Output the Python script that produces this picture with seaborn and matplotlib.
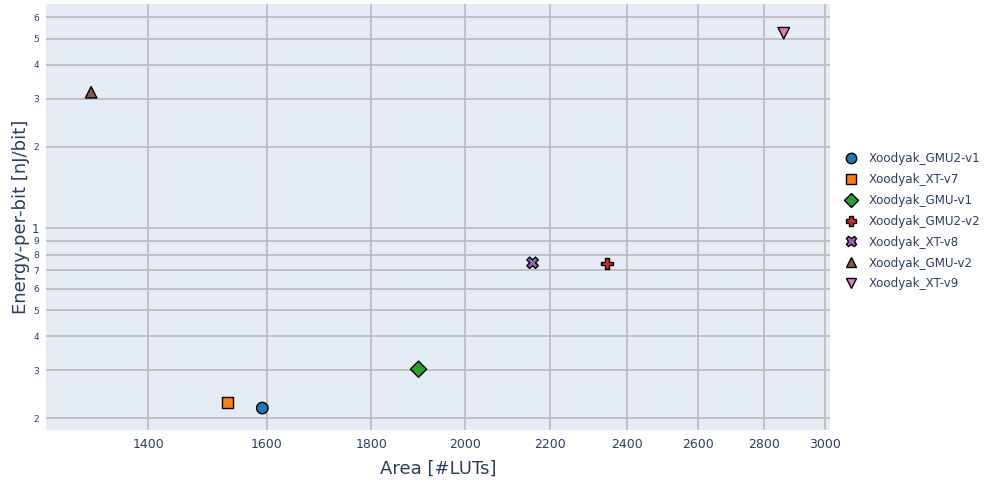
import matplotlib
matplotlib.use("Agg")
import matplotlib.pyplot as plt
import matplotlib.ticker as mticker
import seaborn as sns
import pandas as pd

names = ["Xoodyak_GMU2-v1", "Xoodyak_XT-v7", "Xoodyak_GMU-v1", "Xoodyak_GMU2-v2",
         "Xoodyak_XT-v8", "Xoodyak_GMU-v2", "Xoodyak_XT-v9"]
area = [1592, 1531, 1898, 2347, 2158, 1313, 2863]
energy = [0.218, 0.228, 0.303, 0.742, 0.747, 3.17, 5.23]
colors = ["#1f77b4", "#ff7f0e", "#2ca02c", "#d62728", "#9467bd", "#8c564b", "#e377c2"]
markers = ["o", "s", "D", "P", "X", "^", "v"]

x_ticks = [1400, 1600, 1800, 2000, 2200, 2400, 2600, 2800, 3000]
y_ticks = [0.2, 0.3, 0.4, 0.5, 0.6, 0.7, 0.8, 0.9, 1, 2, 3, 4, 5, 6]
y_labels = ["2", "3", "4", "5", "6", "7", "8", "9", "1", "2", "3", "4", "5", "6"]

df = pd.DataFrame({"name": names, "area": area, "energy": energy})

sns.set_style("white")
plt.rcParams["font.family"] = ["DejaVu Sans"]
txt = "#2a3f5f"

fig = plt.figure(figsize=(9.96, 4.84), dpi=100)
ax = fig.add_axes([46/996, 1-430/484, (830-46)/996, (430-4)/484])
ax.set_facecolor("#e5ecf6")

sns.scatterplot(data=df, x="area", y="energy", hue="name", style="name",
                hue_order=names, style_order=names,
                palette=colors, markers=markers, s=68,
                edgecolor="black", linewidth=1.0, ax=ax, zorder=3)

ax.set_xscale("log")
ax.set_yscale("log")
ax.set_xlim(1248, 3016)
ax.set_ylim(0.181, 6.7)

ax.xaxis.set_major_locator(mticker.FixedLocator(x_ticks))
ax.xaxis.set_major_formatter(mticker.FixedFormatter([str(t) for t in x_ticks]))
ax.xaxis.set_minor_locator(mticker.NullLocator())
ax.yaxis.set_major_locator(mticker.FixedLocator(y_ticks))
ax.yaxis.set_major_formatter(mticker.FixedFormatter(y_labels))
ax.yaxis.set_minor_locator(mticker.NullLocator())

ax.grid(True, which="major", color="#bebebe", linewidth=1.3, zorder=0)
ax.set_axisbelow(True)
for s in ax.spines.values():
    s.set_visible(False)

ax.tick_params(axis="x", length=0, pad=6, labelsize=9, labelcolor=txt)
ax.tick_params(axis="y", length=3, width=1, color="#bebebe", pad=2, labelsize=6.5, labelcolor=txt)
for lbl in ax.get_yticklabels():
    if lbl.get_text() == "1":
        lbl.set_fontsize(8.5)

ax.set_xlabel("Area [#LUTs]", fontsize=13, color=txt, labelpad=6)
ax.set_ylabel("Energy-per-bit [nJ/bit]", fontsize=13, color=txt, labelpad=1)

handles, labels = ax.get_legend_handles_labels()
for h in handles:
    if hasattr(h, "set_markersize"):
        h.set_markersize(7.5)
        h.set_markeredgecolor("black")
        h.set_markeredgewidth(1.0)
leg = ax.legend(handles, labels, loc="center left", bbox_to_anchor=(1.008, 0.49),
                frameon=False, fontsize=8.6, handletextpad=0.7, labelspacing=0.66,
                borderaxespad=0, handlelength=1.6)
for t in leg.get_texts():
    t.set_color(txt)

fig.savefig("out.png", dpi=100, facecolor="white")
